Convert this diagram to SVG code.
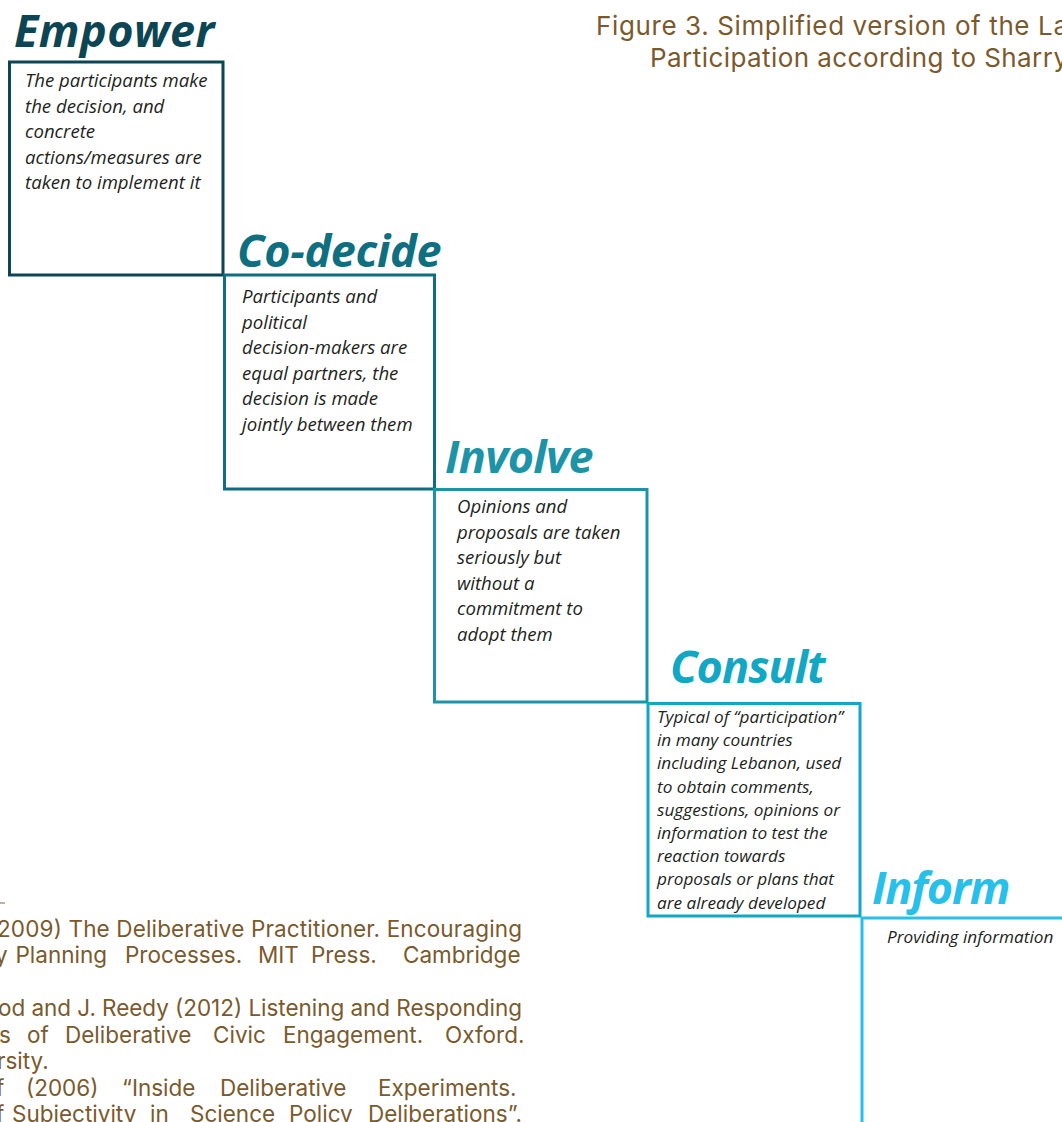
<svg xmlns="http://www.w3.org/2000/svg" width="1062" height="1122" viewBox="0 0 1062 1122">
<style>
.box{fill:none;stroke-width:3}
.title{font-family:"Open Sans","Noto Sans",sans-serif;font-weight:700;font-style:italic;font-size:45px;letter-spacing:-0.5px}
.body{font-family:"Open Sans","Noto Sans",sans-serif;font-style:italic;font-size:18.6px;fill:#231f20}
.small{font-size:17.2px}
.cap{font-family:Inter,Roboto,"Liberation Sans",sans-serif;font-size:26px;fill:#7a5a2c}
.ref{font-family:Inter,Roboto,"Liberation Sans",sans-serif;font-size:22.5px;fill:#7a5a2c}
</style>
<rect width="1062" height="1122" fill="#ffffff"/>
<g id="caption">
<text class="cap" x="596" y="35" textLength="472" lengthAdjust="spacing">Figure 3. Simplified version of the La</text>
<text class="cap" x="650" y="67" textLength="418" lengthAdjust="spacing">Participation according to Sharry</text>
</g>
<g id="connectors"></g>
<g id="empower">
<rect class="box" x="9.5" y="62" width="213.5" height="213" stroke="#0c4654"/>
<text class="title" x="14" y="47" fill="#0c4654" textLength="200">Empower</text>
<text class="body"><tspan x="25" y="87">The participants make</tspan><tspan x="25" y="112.5">the decision, and</tspan><tspan x="25" y="138">concrete</tspan><tspan x="25" y="163.5">actions/measures are</tspan><tspan x="25" y="189">taken to implement it</tspan></text>
</g>
<g id="co-decide">
<rect class="box" x="224.5" y="275" width="210" height="214" stroke="#0d6f80"/>
<text class="title" x="237" y="267" fill="#0d6f80" textLength="204">Co-decide</text>
<text class="body"><tspan x="242" y="303">Participants and</tspan><tspan x="242" y="328.5">political</tspan><tspan x="242" y="354">decision-makers are</tspan><tspan x="242" y="379.5">equal partners, the</tspan><tspan x="242" y="405">decision is made</tspan><tspan x="242" y="430.5">jointly between them</tspan></text>
</g>
<g id="involve">
<rect class="box" x="434.5" y="489.5" width="212.5" height="212.5" stroke="#1d93a8"/>
<text class="title" x="445" y="473" fill="#1d93a8" textLength="148">Involve</text>
<text class="body"><tspan x="457" y="513">Opinions and</tspan><tspan x="457" y="538.5">proposals are taken</tspan><tspan x="457" y="564">seriously but</tspan><tspan x="457" y="589.5">without a</tspan><tspan x="457" y="615">commitment to</tspan><tspan x="457" y="640.5">adopt them</tspan></text>
</g>
<g id="consult">
<rect class="box" x="648" y="703.5" width="212" height="212.5" stroke="#12a7c5"/>
<text class="title" x="670" y="683" fill="#12a7c5" textLength="155">Consult</text>
<text class="body small"><tspan x="657" y="723">Typical of “participation”</tspan><tspan x="657" y="746.2">in many countries</tspan><tspan x="657" y="769.4">including Lebanon, used</tspan><tspan x="657" y="792.6">to obtain comments,</tspan><tspan x="657" y="815.8">suggestions, opinions or</tspan><tspan x="657" y="839">information to test the</tspan><tspan x="657" y="862.2">reaction towards</tspan><tspan x="657" y="885.4">proposals or plans that</tspan><tspan x="657" y="908.6">are already developed</tspan></text>
</g>
<g id="inform">
<path class="box" d="M862 1130 V918 H1070" stroke="#27c0ea"/>
<text class="title" x="872" y="904" fill="#27c0ea" textLength="138">Inform</text>
<text class="body small" x="887" y="943">Providing information</text>
</g>
<g id="references">
<line x1="0" y1="903" x2="5" y2="903" stroke="#a89878" stroke-width="1.5"/>
<text class="ref" x="-3" y="937" textLength="525" lengthAdjust="spacing">2009) The Deliberative Practitioner. Encouraging</text>
<text class="ref" y="963"><tspan x="-5">y</tspan><tspan x="15.5">Planning</tspan><tspan x="125">Processes.</tspan><tspan x="258">MIT</tspan><tspan x="311">Press.</tspan><tspan x="403">Cambridge</tspan></text>
<text class="ref" x="-2" y="1016" textLength="524" lengthAdjust="spacing">od and J. Reedy (2012) Listening and Responding</text>
<text class="ref" y="1043"><tspan x="-1">s</tspan><tspan x="27">of</tspan><tspan x="65">Deliberative</tspan><tspan x="213">Civic</tspan><tspan x="283">Engagement.</tspan><tspan x="445">Oxford.</tspan></text>
<text class="ref" x="-3" y="1069">rsity.</text>
<text class="ref" y="1096"><tspan x="-4">f</tspan><tspan x="26">(2006)</tspan><tspan x="122">“Inside</tspan><tspan x="220">Deliberative</tspan><tspan x="378">Experiments.</tspan></text>
<text class="ref" y="1122"><tspan x="-4">f</tspan><tspan x="12">Subjectivity</tspan><tspan x="150">in</tspan><tspan x="190">Science</tspan><tspan x="289">Policy</tspan><tspan x="368">Deliberations”.</tspan></text>
</g>
</svg>
